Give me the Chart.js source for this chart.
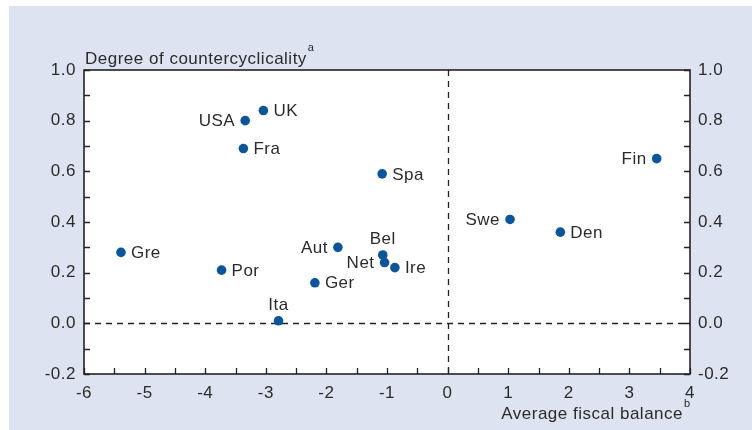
<!DOCTYPE html>
<html>
<head>
<meta charset="utf-8">
<script src="https://cdn.jsdelivr.net/npm/chart.js@4.4.1/dist/chart.umd.min.js"></script>
<style>
  html, body { margin: 0; padding: 0; background: #ffffff; }
  #c { display: block; }
</style>
</head>
<body>
<canvas id="c" width="752" height="430"></canvas>
<script>
// ---- Data ----
const countries = ['USA', 'UK', 'Fra', 'Spa', 'Fin', 'Gre', 'Por', 'Aut', 'Ger', 'Ita', 'Bel', 'Net', 'Ire', 'Swe', 'Den'];
const fiscalBalance = [-3.34, -3.04, -3.37, -1.08, 3.45, -5.39, -3.73, -1.81, -2.19, -2.79, -1.07, -1.04, -0.87, 1.03, 1.86];
const countercyclicality = [0.80, 0.84, 0.69, 0.59, 0.65, 0.28, 0.21, 0.30, 0.16, 0.01, 0.27, 0.24, 0.22, 0.41, 0.36];
const xTickValues = [-6, -5, -4, -3, -2, -1, 0, 1, 2, 3, 4];
const yTickValues = [-0.2, 0.0, 0.2, 0.4, 0.6, 0.8, 1.0];
const yTitle = 'Degree of countercyclicality';
const yTitleNote = 'a';
const xTitle = 'Average fiscal balance';
const xTitleNote = 'b';

// ---- Styling ----
const TEXT = '#2b2b2b';
const DOT = '#0a559b';
const AXIS = '#222222';
const FONT_FAMILY = '"Liberation Sans", Arial, Helvetica, sans-serif';
const FONT = { family: FONT_FAMILY, size: 17 };
const LETTER_SPACING = '0.5px';

const labelSide = {
  USA: 'left', UK: 'right', Fra: 'right', Spa: 'right', Fin: 'left', Gre: 'right',
  Por: 'right', Aut: 'left', Ger: 'right', Ita: 'top', Bel: 'top', Net: 'left',
  Ire: 'right', Swe: 'left', Den: 'right'
};

const points = countries.map((c, i) => ({ x: fiscalBalance[i], y: countercyclicality[i] }));

function setSpacing(chart) {
  try { chart.ctx.letterSpacing = LETTER_SPACING; } catch (e) {}
}

const decorPlugin = {
  id: 'decor',
  beforeLayout(chart) { setSpacing(chart); },
  beforeDraw(chart) {
    setSpacing(chart);
    const ctx = chart.ctx;
    const a = chart.chartArea;
    ctx.save();
    ctx.fillStyle = '#dde3f1';
    ctx.fillRect(9, 6, chart.width - 9, chart.height - 6);
    ctx.fillStyle = '#ffffff';
    ctx.fillRect(a.left, a.top, a.right - a.left, a.bottom - a.top);
    ctx.restore();
  },
  beforeDatasetsDraw(chart) {
    const ctx = chart.ctx;
    const a = chart.chartArea;
    const xs = chart.scales.x, ys = chart.scales.y;
    ctx.save();
    // dashed zero lines
    ctx.strokeStyle = AXIS;
    ctx.lineWidth = 1.3;
    ctx.setLineDash([6, 5]);
    const x0 = Math.round(xs.getPixelForValue(0)) + 0.5;
    const y0 = Math.round(ys.getPixelForValue(0)) + 0.5;
    ctx.beginPath();
    ctx.moveTo(a.left, y0); ctx.lineTo(a.right, y0);
    ctx.moveTo(x0, a.top); ctx.lineTo(x0, a.bottom);
    ctx.stroke();
    ctx.setLineDash([]);
    // tick marks (inside), every half unit on x and every 0.1 on y
    const TL = 6;
    ctx.lineWidth = 1.3;
    ctx.beginPath();
    for (let k = 0; k <= 20; k++) {
      const v = -6 + k * 0.5;
      const px = Math.round(xs.getPixelForValue(v)) + 0.5;
      ctx.moveTo(px, a.bottom); ctx.lineTo(px, a.bottom - TL);
    }
    for (let k = 0; k <= 12; k++) {
      const v = -0.2 + k * 0.1;
      const py = Math.round(ys.getPixelForValue(v)) + 0.5;
      ctx.moveTo(a.left, py); ctx.lineTo(a.left + TL, py);
      ctx.moveTo(a.right, py); ctx.lineTo(a.right - TL, py);
    }
    ctx.stroke();
    // frame
    ctx.lineWidth = 1.6;
    ctx.strokeRect(a.left, a.top, a.right - a.left, a.bottom - a.top);
    ctx.restore();
  },
  afterDatasetsDraw(chart) {
    const ctx = chart.ctx;
    const a = chart.chartArea;
    const meta = chart.getDatasetMeta(0);
    ctx.save();
    ctx.fillStyle = TEXT;
    ctx.font = FONT.size + 'px ' + FONT_FAMILY;
    meta.data.forEach((el, i) => {
      const name = countries[i];
      const side = labelSide[name] || 'right';
      const x = el.x, y = el.y;
      if (side === 'right') {
        ctx.textAlign = 'left'; ctx.textBaseline = 'middle';
        ctx.fillText(name, x + 10, y + 1);
      } else if (side === 'left') {
        ctx.textAlign = 'right'; ctx.textBaseline = 'middle';
        ctx.fillText(name, x - 10, y + 1);
      } else {
        ctx.textAlign = 'center'; ctx.textBaseline = 'alphabetic';
        ctx.fillText(name, x, y - 11);
      }
    });
    // axis titles
    ctx.textAlign = 'left'; ctx.textBaseline = 'alphabetic';
    ctx.fillText(yTitle, a.left + 1, a.top - 6);
    const yw = ctx.measureText(yTitle).width;
    ctx.textAlign = 'right';
    ctx.fillText(xTitle, a.right - 7, chart.height - 11);
    ctx.font = '11px ' + FONT_FAMILY;
    ctx.textAlign = 'left';
    ctx.fillText(yTitleNote, a.left + 2 + yw, a.top - 19);
    ctx.fillText(xTitleNote, a.right - 6, chart.height - 23);
    ctx.restore();
  }
};

const yAxisCommon = {
  type: 'linear',
  min: -0.2,
  max: 1.0,
  display: true,
  grid: { display: false, drawTicks: false },
  border: { display: false },
  ticks: {
    color: TEXT,
    font: FONT,
    padding: 8,
    stepSize: 0.2,
    callback: (v) => v.toFixed(1)
  },
  afterBuildTicks: (s) => { s.ticks = yTickValues.map(v => ({ value: v })); }
};

new Chart(document.getElementById('c'), {
  type: 'scatter',
  data: {
    datasets: [{
      label: 'Countries',
      data: points,
      backgroundColor: DOT,
      borderWidth: 0,
      pointRadius: 4.8,
      pointHoverRadius: 4.8
    }]
  },
  options: {
    responsive: false,
    devicePixelRatio: 1,
    animation: false,
    events: [],
    layout: { padding: { top: 70, left: 0, right: 0, bottom: 0 } },
    plugins: { legend: { display: false }, tooltip: { enabled: false }, title: { display: false } },
    scales: {
      x: {
        type: 'linear',
        position: 'bottom',
        min: -6,
        max: 4,
        grid: { display: false, drawTicks: false },
        border: { display: false },
        ticks: { color: TEXT, font: FONT, padding: 9, stepSize: 1, maxRotation: 0, autoSkip: false },
        afterBuildTicks: (s) => { s.ticks = xTickValues.map(v => ({ value: v })); },
        afterFit: (s) => { s.height = 56; }
      },
      y: Object.assign({}, yAxisCommon, { position: 'left', afterFit: (s) => { s.width = 84; } }),
      y2: Object.assign({}, yAxisCommon, { position: 'right', afterFit: (s) => { s.width = 62; } })
    }
  },
  plugins: [decorPlugin]
});
</script>
</body>
</html>
